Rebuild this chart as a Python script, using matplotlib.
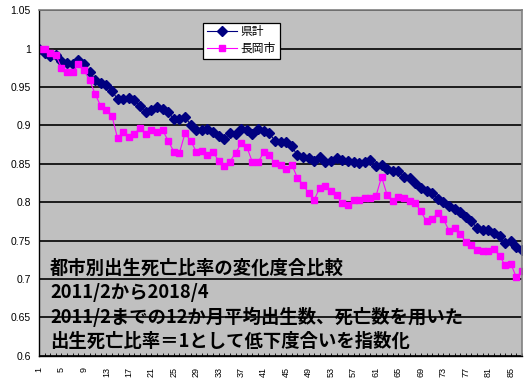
import numpy as np
import matplotlib
matplotlib.use('Agg')
import matplotlib.pyplot as plt

plt.rcParams['font.family'] = ['Liberation Sans', 'Noto Sans CJK JP', 'DejaVu Sans']

# monthly index, 2011/2 = 1
months = np.arange(1, 88)

ken_total = [
    1.000, 0.994, 0.990, 0.992, 0.984, 0.981, 0.980, 0.985, 0.980, 0.970,
    0.959, 0.955, 0.953, 0.945, 0.934, 0.934, 0.936, 0.933, 0.925, 0.917,
    0.920, 0.924, 0.922, 0.918, 0.908, 0.908, 0.911, 0.901, 0.894, 0.894,
    0.895, 0.892, 0.886, 0.882, 0.890, 0.889, 0.895, 0.894, 0.889, 0.896,
    0.893, 0.890, 0.880, 0.879, 0.878, 0.873, 0.861, 0.859, 0.858, 0.854,
    0.859, 0.853, 0.854, 0.857, 0.855, 0.854, 0.852, 0.851, 0.852, 0.855,
    0.847, 0.849, 0.843, 0.841, 0.841, 0.833, 0.832, 0.825, 0.818, 0.815,
    0.812, 0.804, 0.800, 0.795, 0.791, 0.787, 0.781, 0.775, 0.766, 0.764,
    0.764, 0.760, 0.756, 0.747, 0.749, 0.741, 0.738,
]

nagaoka = [
    1.000, 1.000, 0.995, 0.992, 0.975, 0.970, 0.970, 0.980, 0.972, 0.959,
    0.941, 0.925, 0.920, 0.912, 0.883, 0.892, 0.885, 0.889, 0.897, 0.889,
    0.894, 0.891, 0.894, 0.880, 0.866, 0.864, 0.890, 0.880, 0.866, 0.867,
    0.861, 0.865, 0.854, 0.847, 0.853, 0.864, 0.877, 0.872, 0.852, 0.852,
    0.865, 0.861, 0.851, 0.848, 0.843, 0.849, 0.832, 0.823, 0.812, 0.803,
    0.819, 0.821, 0.815, 0.809, 0.799, 0.796, 0.803, 0.803, 0.806, 0.806,
    0.808, 0.833, 0.809, 0.802, 0.807, 0.805, 0.801, 0.799, 0.788, 0.775,
    0.778, 0.786, 0.778, 0.763, 0.767, 0.759, 0.748, 0.744, 0.738, 0.737,
    0.737, 0.739, 0.730, 0.718, 0.720, 0.702, 0.710,
]

y_ticks = [0.6, 0.65, 0.7, 0.75, 0.8, 0.85, 0.9, 0.95, 1.0, 1.05]
y_tick_labels = ['0.6', '0.65', '0.7', '0.75', '0.8', '0.85', '0.9', '0.95', '1', '1.05']

note_lines = [
    '都市別出生死亡比率の変化度合比較',
    '2011/2から2018/4',
    '2011/2までの12か月平均出生数、死亡数を用いた',
    '出生死亡比率＝1として低下度合いを指数化',
]

W, H = 527, 385
fig = plt.figure(figsize=(W / 100, H / 100), dpi=100)
ax = fig.add_axes([39 / W, 1 - 355.7 / H, (522 - 39) / W, (355.7 - 10.3) / H])
ax.set_facecolor('#C0C0C0')

ax.plot(months, ken_total, color='#000080', lw=0.8, marker='D', ms=5.2,
        mec='#000080', mfc='#000080', label='県計')
ax.plot(months, nagaoka, color='#FF00FF', lw=0.8, marker='s', ms=5,
        mec='#FF00FF', mfc='#FF00FF', label='長岡市')

ax.set_xlim(1, 87)
ax.set_ylim(0.6, 1.05)
ax.set_yticks(y_ticks)
ax.set_yticklabels(y_tick_labels, fontsize=7.5)
ax.tick_params(axis='y', length=0, pad=6)

ax.set_xticks(months)
ax.set_xticklabels([str(m) if (m - 1) % 4 == 0 else '' for m in months],
                   rotation=90, fontsize=6.5)
ax.tick_params(axis='x', direction='in', length=2.5, width=0.6, pad=8)

ax.set_axisbelow(True)
ax.yaxis.grid(True, color='black', lw=1.2)
for s in ['top', 'right']:
    ax.spines[s].set_color('#808080')
    ax.spines[s].set_linewidth(1.2)
for s in ['left', 'bottom']:
    ax.spines[s].set_color('black')
    ax.spines[s].set_linewidth(1.0)

leg = ax.legend(loc='upper left', bbox_to_anchor=(203 / W, 1 - 22.7 / H),
                bbox_transform=fig.transFigure, fontsize=8.5, frameon=True,
                fancybox=False, edgecolor='black', framealpha=1,
                handlelength=2.6, borderpad=0.3, labelspacing=0.4,
                handletextpad=0.3, borderaxespad=0)
leg.get_frame().set_linewidth(0.9)

for k, line in enumerate(note_lines):
    fig.text(50 / W, 1 - (268 + k * 24.6) / H, line, fontsize=13.2,
             fontweight='bold', va='center', ha='left',
             family=['Noto Sans CJK JP', 'DejaVu Sans'])

fig.savefig('out.png', dpi=100, facecolor='white')
